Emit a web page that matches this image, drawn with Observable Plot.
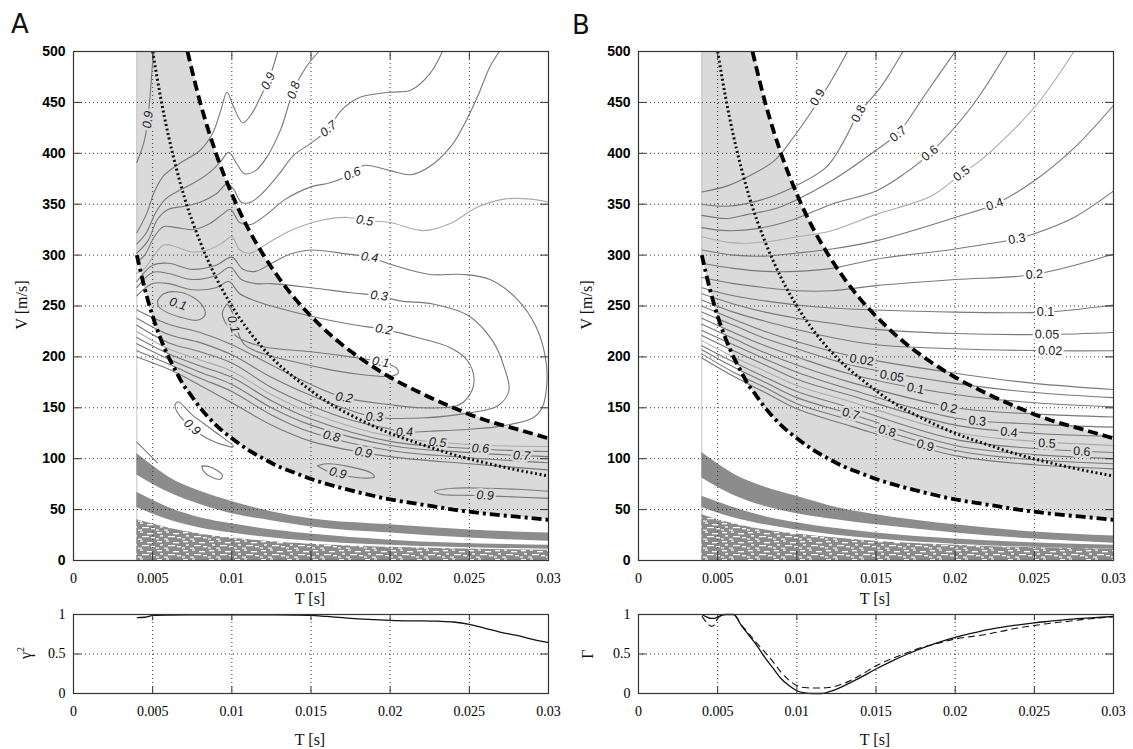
<!DOCTYPE html>
<html><head><meta charset="utf-8">
<script src="https://cdn.jsdelivr.net/npm/d3@7"></script>
<script src="https://cdn.jsdelivr.net/npm/@observablehq/plot@0.6"></script>
<style>
body{margin:0;background:#fff;}
#root{position:relative;width:1133px;height:749px;overflow:hidden;background:#fff;}
.t{position:absolute;white-space:nowrap;color:#111;}
.letter{font-family:"DejaVu Sans",sans-serif;font-size:26px;line-height:26px;}
.xl{font-family:"Liberation Serif",serif;font-size:16px;transform:translate(-50%,-50%);}
.yl{font-family:"Liberation Serif",serif;font-size:16px;transform:translate(-50%,-50%) rotate(-90deg);}
</style></head><body><div id="root"></div>
<script>
// ---------------- axes ----------------
const xTicks = [0, 0.005, 0.01, 0.015, 0.02, 0.025, 0.03];
const xTickLabels = ["0", "0.005", "0.01", "0.015", "0.02", "0.025", "0.03"];
const vTicks = [0, 50, 100, 150, 200, 250, 300, 350, 400, 450, 500];
const gTicks = [0, 0.5, 1];
const gTickLabels = ["0", "0.5", "1"];
const dataStartT = 0.004;

// ---------------- boundary curves (same in A and B) ----------------
const boundT   = [0.004,0.0045,0.005,0.0055,0.006,0.0065,0.007,0.0072,0.008,0.009,0.01,0.011,0.012,0.013,0.014,0.015,0.0165,0.018,0.02,0.022,0.024,0.026,0.028,0.03];
const dashDotV = [300,267,240,218,200,185,171,167,150,133,120,109,100,92,86,80,73,67,60,55,50,46,43,40];
const dashedV  = [null,null,null,null,null,null,null,500,450,400,360,327,300,277,257,240,218,200,180,164,150,138,129,120];
const dottedT  = [0.005,0.0055,0.006,0.0065,0.007,0.008,0.009,0.01,0.011,0.012,0.013,0.014,0.016,0.018,0.02,0.022,0.024,0.026,0.028,0.03];
const dottedV  = [500,455,417,385,357,313,278,250,227,208,192,179,156,139,125,114,104,96,89,83];

// ---------------- contours, panel A ----------------
const contoursA = [
 {v:"0.9", pts:[[0.004,391],[0.0045,414],[0.0048,450],[0.005,489],[0.0051,500]]},
 {v:"0.9", pts:[[0.004,322],[0.0046,340],[0.0051,362],[0.0057,378],[0.0067,390],[0.008,403],[0.0088,420],[0.0093,442],[0.0097,460],[0.0101,446],[0.0107,430],[0.0113,440],[0.0118,455],[0.0123,471],[0.0129,500]]},
 {v:"0.8", pts:[[0.004,311],[0.0046,322],[0.0052,342],[0.0058,355],[0.0065,362],[0.0075,370],[0.0085,380],[0.0093,392],[0.0098,401],[0.0103,390],[0.0108,380],[0.0115,383],[0.0122,396],[0.0131,424],[0.0139,462],[0.0147,485],[0.0155,500]]},
 {v:"0.7", pts:[[0.004,302],[0.0047,314],[0.0053,335],[0.006,345],[0.007,348],[0.008,352],[0.009,360],[0.0097,370],[0.0101,365],[0.0106,352],[0.0112,352],[0.012,362],[0.013,380],[0.0139,398],[0.015,410],[0.0161,424],[0.0169,442],[0.0181,455],[0.02,460],[0.0213,462],[0.0225,478],[0.0233,500]]},
 {v:"0.6", pts:[[0.004,293],[0.0045,300],[0.0051,318],[0.0057,328],[0.0065,327],[0.0075,325],[0.0085,330],[0.0094,340],[0.0099,345],[0.0105,332],[0.0112,330],[0.0122,340],[0.0133,354],[0.015,367],[0.0162,371],[0.0176,380],[0.0183,388],[0.02,383],[0.0213,379],[0.0225,387],[0.0238,406],[0.0246,426],[0.0255,455],[0.0263,485],[0.0269,500]]},
 {v:"0.5", pts:[[0.004,282],[0.0045,287],[0.0051,300],[0.0057,310],[0.0065,308],[0.0075,303],[0.0085,305],[0.0094,312],[0.01,318],[0.0105,305],[0.0112,302],[0.0122,311],[0.0137,324],[0.0156,334],[0.0173,337],[0.0184,334],[0.02,332],[0.0221,324],[0.0238,331],[0.0255,347],[0.0272,355],[0.0289,355],[0.03,352]]},
 {v:"0.4", pts:[[0.004,274],[0.005,290],[0.006,292],[0.0075,286],[0.009,290],[0.01,298],[0.0107,286],[0.0115,284],[0.0125,292],[0.0137,301],[0.015,305],[0.0173,301],[0.0187,298],[0.02,291],[0.0225,281],[0.0246,281],[0.0263,276],[0.028,257],[0.0292,230],[0.0298,200],[0.0299,175],[0.0296,150],[0.029,140],[0.027,132],[0.025,129],[0.0225,127],[0.0209,126],[0.02,129],[0.0175,138],[0.015,152],[0.0125,170],[0.01,194],[0.008,205],[0.006,214],[0.004,231]]},
 {v:"0.3", pts:[[0.004,268],[0.005,283],[0.006,282],[0.0075,276],[0.009,280],[0.0099,288],[0.0106,276],[0.0115,272],[0.0125,272],[0.015,268],[0.0175,263],[0.0193,260],[0.0206,255],[0.0227,252],[0.025,240],[0.0265,215],[0.0272,190],[0.0275,167],[0.0268,152],[0.025,145],[0.022,140],[0.019,141],[0.017,150],[0.015,162],[0.0125,180],[0.01,202],[0.008,214],[0.006,222],[0.004,238]]},
 {v:"0.2", pts:[[0.004,260],[0.005,272],[0.006,272],[0.0075,266],[0.009,268],[0.0098,274],[0.0105,262],[0.0115,255],[0.0125,250],[0.015,240],[0.0175,232],[0.0196,227],[0.0217,219],[0.0238,209],[0.0249,196],[0.0253,176],[0.0249,160],[0.0242,152],[0.022,150],[0.02,153],[0.0171,160],[0.015,173],[0.0125,192],[0.01,212],[0.008,224],[0.006,232],[0.004,246]]},
 {v:"0.1", pts:[[0.0053,255],[0.0057,262],[0.0065,264],[0.0075,259],[0.0082,249],[0.0083,241],[0.0078,236],[0.007,238],[0.006,243],[0.0054,249],[0.0053,255]]},
 {v:"0.1", pts:[[0.0097,252],[0.0094,243],[0.0097,231],[0.0104,219],[0.012,210],[0.015,205],[0.0175,200],[0.0194,195],[0.0204,189],[0.0205,184],[0.02,181],[0.018,183],[0.016,188],[0.014,195],[0.012,203],[0.0108,212],[0.0103,228],[0.01,245],[0.0097,252]]},
 {v:"0.5", pts:[[0.004,225],[0.006,208],[0.008,197],[0.01,186],[0.0125,163],[0.015,145],[0.02,122],[0.025,114],[0.03,112]]},
 {v:"0.6", pts:[[0.004,219],[0.006,203],[0.008,191],[0.01,180],[0.0125,157],[0.015,139],[0.02,117],[0.025,110],[0.03,107]]},
 {v:"0.7", pts:[[0.004,213],[0.006,198],[0.008,185],[0.01,173],[0.0125,150],[0.015,133],[0.02,113],[0.025,106],[0.03,102]]},
 {v:"0.8", pts:[[0.004,206],[0.006,193],[0.008,179],[0.01,166],[0.0125,143],[0.015,126],[0.02,108],[0.025,101],[0.03,96]]},
 {v:"0.9", pts:[[0.004,200],[0.006,188],[0.008,172],[0.01,155],[0.0125,133],[0.015,117],[0.02,102],[0.025,95],[0.03,89]]},
 {v:"0.9", pts:[[0.0064,153],[0.0066,156],[0.0075,143],[0.0088,128],[0.0101,112],[0.009,116],[0.008,124],[0.0075,131],[0.007,137],[0.0065,147],[0.0064,153]]},
 {v:"0.9", pts:[[0.0081,93],[0.0086,92],[0.0094,84],[0.0093,80],[0.0087,82],[0.0082,88],[0.0081,93]]},
 {v:"0.9", pts:[[0.0154,93],[0.016,95],[0.0175,92],[0.0188,86],[0.019,82],[0.0182,81],[0.017,84],[0.016,88],[0.0154,93]]},
 {v:"0.9", pts:[[0.03,68],[0.028,70],[0.026,71],[0.024,71],[0.0228,68],[0.0232,65],[0.025,64],[0.027,63],[0.03,61]]},
 {v:"", pts:[[0.004,116],[0.0046,107],[0.0053,96]]}
];
const labelsA = [
 ["0.9",0.0047,433],["0.9",0.0123,471],["0.8",0.0139,462],["0.7",0.0161,424],["0.6",0.0176,380],
 ["0.5",0.0184,334],["0.4",0.0187,298],["0.3",0.0193,260],["0.2",0.0196,227],["0.1",0.0194,195],
 ["0.1",0.0066,252],["0.1",0.0101,232],
 ["0.2",0.0171,160],["0.3",0.019,141],["0.4",0.0209,126],["0.5",0.023,116],["0.6",0.0257,110],["0.7",0.0283,103],
 ["0.8",0.0163,122],["0.9",0.0183,106],["0.9",0.0075,131],["0.9",0.0167,86],["0.9",0.026,64]
];
const bandsA = [
 {t:[0.004,0.005,0.006,0.008,0.01,0.0125,0.015,0.02,0.025,0.03], top:[105,93,82,68,58,48,41,35,30,27], bot:[84,75,67,55,46,39,33,27,22,19]},
 {t:[0.004,0.006,0.008,0.01,0.015,0.02,0.03], top:[67,52,42,36,26,20,15], bot:[52,40,32,27,19,15,11]}
];
const noiseA = {t:[0.004,0.006,0.008,0.01,0.015,0.02,0.03], top:[40,32,26,22,16,13,10]};

// ---------------- contours, panel B ----------------
const lowT = [0.004,0.006,0.008,0.01,0.0134,0.02,0.025,0.03];
const contoursB = [
 {v:"0.9", pts:[[0.004,362],[0.0056,368],[0.0069,377],[0.0086,393],[0.0098,416],[0.0111,445],[0.0122,472],[0.0132,500]]},
 {v:"0.8", pts:[[0.004,350],[0.0056,348],[0.0077,354],[0.0098,367],[0.0119,387],[0.0129,410],[0.0139,439],[0.0153,465],[0.0167,500]]},
 {v:"0.7", pts:[[0.004,339],[0.0056,336],[0.0069,340],[0.0085,345],[0.0098,353],[0.0122,373],[0.015,403],[0.0164,420],[0.0182,460],[0.02,500]]},
 {v:"0.6", pts:[[0.004,327],[0.0056,324],[0.0075,326],[0.0098,335],[0.0122,350],[0.015,363],[0.0168,380],[0.0184,400],[0.021,445],[0.0233,500]]},
 {v:"0.5", pts:[[0.004,318],[0.006,312],[0.008,313],[0.01,318],[0.0122,324],[0.015,340],[0.0185,358],[0.0204,380],[0.0216,393],[0.025,445],[0.0275,500]]},
 {v:"0.4", pts:[[0.004,305],[0.006,300],[0.008,299],[0.01,302],[0.0122,306],[0.015,314],[0.02,337],[0.0225,350],[0.025,373],[0.0275,405],[0.03,447]]},
 {v:"0.3", pts:[[0.004,292],[0.006,287],[0.008,284],[0.01,284],[0.0122,287],[0.015,296],[0.02,306],[0.0239,316],[0.025,321],[0.0275,337],[0.03,363]]},
 {v:"0.2", pts:[[0.004,278],[0.006,272],[0.008,268],[0.01,265],[0.0122,265],[0.015,270],[0.02,276],[0.025,281],[0.03,301]]},
 {v:"0.1", pts:[[0.004,268],[0.006,260],[0.008,255],[0.01,251],[0.0122,248],[0.015,246],[0.02,244],[0.0257,244],[0.03,251]]},
 {v:"0.05", pts:[[0.004,262],[0.006,252],[0.008,244],[0.01,238],[0.0122,233],[0.015,227],[0.02,223],[0.0258,222],[0.03,224]]},
 {v:"0.02", pts:[[0.004,256],[0.006,244],[0.008,235],[0.01,227],[0.0122,219],[0.015,212],[0.02,208],[0.026,206],[0.03,206]]},
 {v:"0.02", pts:lowT.map((t,i)=>[t,[250,237,225,215,201,184,174,168][i]])},
 {v:"0.05", pts:lowT.map((t,i)=>[t,[244,231,218,208,192,174,165,160][i]])},
 {v:"0.1",  pts:lowT.map((t,i)=>[t,[238,224,211,200,183,163,155,151][i]])},
 {v:"0.2",  pts:lowT.map((t,i)=>[t,[232,218,204,192,175,150,144,141][i]])},
 {v:"0.3",  pts:lowT.map((t,i)=>[t,[226,212,198,185,168,140,134,131][i]])},
 {v:"0.4",  pts:lowT.map((t,i)=>[t,[221,206,192,178,162,133,125,122][i]])},
 {v:"0.5",  pts:lowT.map((t,i)=>[t,[216,200,186,172,156,126,117,113][i]])},
 {v:"0.6",  pts:lowT.map((t,i)=>[t,[211,195,180,166,150,119,110,106][i]])},
 {v:"0.7",  pts:lowT.map((t,i)=>[t,[207,190,175,160,144,113,104,100][i]])},
 {v:"0.8",  pts:lowT.map((t,i)=>[t,[203,185,170,154,138,108,99,95][i]])},
 {v:"0.9",  pts:lowT.map((t,i)=>[t,[199,181,165,149,132,103,94,90][i]])}
];
const labelsB = [
 ["0.9",0.0113,455],["0.8",0.0139,439],["0.7",0.0164,419],["0.6",0.0184,400],["0.5",0.0204,380],
 ["0.4",0.0225,350],["0.3",0.0239,316],["0.2",0.025,281],["0.1",0.0257,244],["0.05",0.0258,222],["0.02",0.026,206],
 ["0.02",0.0141,197],["0.05",0.016,181],["0.1",0.0175,169],["0.2",0.0196,150],["0.3",0.0214,137],["0.4",0.0234,126],
 ["0.5",0.0258,115],["0.6",0.028,107],["0.7",0.0134,144],["0.8",0.0157,127],["0.9",0.0181,113]
];
const bandsB = [
 {t:[0.004,0.005,0.006,0.008,0.01,0.0125,0.015,0.02,0.025,0.03], top:[106,95,85,72,63,52,45,35,28,24], bot:[81,72,64,53,46,40,35,27,21,17]},
 {t:[0.004,0.006,0.008,0.01,0.015,0.02,0.03], top:[63,52,43,37,27,21,15], bot:[52,42,35,30,21,16,11]}
];
const noiseB = {t:[0.004,0.006,0.008,0.01,0.015,0.02,0.03], top:[45,36,30,26,19,15,11]};

// ---------------- lower panels ----------------
const gammaAT = [0.004,0.0045,0.0048,0.005,0.006,0.008,0.01,0.012,0.014,0.015,0.016,0.017,0.018,0.019,0.02,0.021,0.022,0.023,0.024,0.025,0.026,0.027,0.028,0.029,0.03];
const gammaAV = [0.96,0.965,0.98,0.99,0.993,0.995,0.995,0.995,0.993,0.99,0.975,0.96,0.945,0.935,0.925,0.92,0.92,0.915,0.905,0.875,0.825,0.775,0.735,0.685,0.645];
const gammaBT = [0.004,0.0043,0.0046,0.0048,0.005,0.0055,0.006,0.0065,0.007,0.0075,0.008,0.0085,0.009,0.0095,0.01,0.0105,0.011,0.0115,0.012,0.013,0.014,0.015,0.016,0.017,0.018,0.019,0.02,0.021,0.022,0.023,0.024,0.025,0.026,0.027,0.028,0.029,0.03];
const gammaBSolid  = [1.0,0.97,0.95,0.95,0.97,1.0,1.0,0.86,0.73,0.6,0.45,0.32,0.19,0.1,0.035,0.008,0.0,0.0,0.02,0.1,0.2,0.31,0.41,0.5,0.58,0.65,0.71,0.76,0.805,0.84,0.87,0.895,0.915,0.935,0.95,0.962,0.975];
const gammaBDashed = [0.98,0.9,0.85,0.87,0.95,1.0,1.0,0.87,0.75,0.63,0.52,0.4,0.27,0.17,0.1,0.075,0.07,0.07,0.075,0.13,0.23,0.35,0.44,0.52,0.59,0.64,0.69,0.72,0.75,0.79,0.83,0.86,0.89,0.91,0.935,0.955,0.97];

// ---------------- helpers ----------------
const root = document.getElementById("root");
const hiV = dashedV.map(v => v == null ? 500 : v);
function interp(ts, vs, t) {
  if (t <= ts[0]) return vs[0];
  for (let i = 1; i < ts.length; i++) if (t <= ts[i]) { const f = (t - ts[i-1]) / (ts[i] - ts[i-1]); return vs[i-1] + f * (vs[i] - vs[i-1]); }
  return vs[vs.length - 1];
}
function inShade(t, v) { return t >= dataStartT && v >= interp(boundT, dashDotV, t) && v <= interp(boundT, hiV, t); }
function place(el, left, top) { el.style.position = "absolute"; el.style.left = left + "px"; el.style.top = top + "px"; root.append(el); }
function addText(cls, txt, x, y) { const d = document.createElement("div"); d.className = "t " + cls; d.innerHTML = txt; d.style.left = x + "px"; d.style.top = y + "px"; root.append(d); }

// speckle texture for the noisy low-velocity region
function addSpeckle(svg, id) {
  const p = d3.select(svg).insert("defs", ":first-child").append("pattern")
    .attr("id", id).attr("patternUnits", "userSpaceOnUse").attr("width", 26).attr("height", 9);
  p.append("rect").attr("width", 26).attr("height", 9).attr("fill", "#8a8a8a");
  [[1,1,5,1.3],[10,0.5,3,1.2],[17,2,6,1.3],[4,4.2,3,1.4],[12,5,7,1.2],[21,6,4,1.3],[0,7.4,3,1.2],[8,7.6,4,1.1]]
    .forEach(([x,y,w,h]) => p.append("rect").attr("x", x).attr("y", y).attr("width", w).attr("height", h).attr("fill", "#fff"));
}

const tickFont = {fontFamily: "Liberation Serif, serif", fontSize: 14};
const gridStyle = {stroke: "#333", strokeWidth: 1, strokeDasharray: "1,3"};
const xFmt = d => xTickLabels[xTicks.indexOf(d)];

function mainPanel(contours, labels, bands, noise, italic, patId) {
  const W = 560, H = 606, mL = 73, mR = 12, mT = 51, mB = 46;
  const xs = t => mL + t / 0.03 * (W - mL - mR), ys = v => mT + (1 - v / 500) * (H - mT - mB);
  const rows = contours.flatMap((c, i) => c.pts.map(([t, v]) => ({t, v, id: i, level: c.v})));
  const labRows = labels.map(([level, t, v]) => {
    let best = Infinity, ang = 0;
    const px = xs(t), py = ys(v);
    contours.forEach(c => {
      if (c.v !== level) return;
      for (let k = 1; k < c.pts.length; k++) {
        const ax = xs(c.pts[k-1][0]), ay = ys(c.pts[k-1][1]), bx = xs(c.pts[k][0]), by = ys(c.pts[k][1]);
        const dx = bx - ax, dy = by - ay, L = dx*dx + dy*dy || 1;
        let u = ((px - ax) * dx + (py - ay) * dy) / L; u = Math.max(0, Math.min(1, u));
        const d = Math.hypot(ax + u*dx - px, ay + u*dy - py);
        if (d < best) { best = d; ang = Math.atan2(dy, dx) * 180 / Math.PI; }
      }
    });
    if (ang > 90) ang -= 180; if (ang < -90) ang += 180;
    return {t, v, level, rot: ang, inside: inShade(t, v)};
  });
  const shadeRows = boundT.map((t, i) => ({t, lo: dashDotV[i], hi: hiV[i]}));
  const dashedRows = boundT.map((t, i) => ({t, v: dashedV[i]})).filter(d => d.v != null);
  const dashDotRows = boundT.map((t, i) => ({t, v: dashDotV[i]}));
  const dottedRows = dottedT.map((t, i) => ({t, v: dottedV[i]}));
  const bandRows = bands.flatMap((b, i) => b.t.map((t, k) => ({t, top: b.top[k], bot: b.bot[k], id: i})));
  const noiseRows = noise.t.map((t, k) => ({t, top: noise.top[k]}));
  const labStyle = {x: "t", y: "v", text: "level", rotate: "rot", fill: "#1a1a1a", fontSize: 12.5,
    fontFamily: "Liberation Sans, sans-serif", fontStyle: italic ? "italic" : "normal", strokeWidth: 5};
  const bold = {strokeLinecap: "butt", strokeLinejoin: "miter", curve: "monotone-x"};
  const svg = Plot.plot({
    width: W, height: H, marginLeft: mL, marginRight: mR, marginTop: mT, marginBottom: mB,
    x: {domain: [0, 0.03], label: null}, y: {domain: [0, 500], label: null},
    style: {background: "transparent", overflow: "visible"},
    marks: [
      Plot.areaY(shadeRows, {x: "t", y1: "lo", y2: "hi", fill: "#dadada", curve: "monotone-x"}),
      Plot.ruleX([dataStartT], {y1: 0, y2: 500, stroke: "#c4c4c4", strokeWidth: 1}),
      Plot.areaY(noiseRows, {x: "t", y1: 0, y2: "top", fill: `url(#${patId})`, curve: "monotone-x"}),
      Plot.areaY(bandRows, {x: "t", y1: "bot", y2: "top", z: "id", fill: "#8c8c8c", curve: "monotone-x"}),
      Plot.ruleX(xTicks.slice(1, -1), {...gridStyle}),
      Plot.ruleY(vTicks.slice(1, -1), {...gridStyle}),
      Plot.line(rows.filter(d => d.level !== "0.5"), {x: "t", y: "v", z: "id", stroke: "#787878", strokeWidth: 1.1, curve: "catmull-rom", clip: true}),
      Plot.line(rows.filter(d => d.level === "0.5"), {x: "t", y: "v", z: "id", stroke: "#ababab", strokeWidth: 1.1, curve: "catmull-rom", clip: true}),
      Plot.text(labRows.filter(d => d.inside), {...labStyle, stroke: "#dadada"}),
      Plot.text(labRows.filter(d => !d.inside), {...labStyle, stroke: "#ffffff"}),
      Plot.line(dottedRows, {x: "t", y: "v", stroke: "#111", strokeWidth: 3, strokeDasharray: "2,2.6", ...bold}),
      Plot.line(dashedRows, {x: "t", y: "v", stroke: "#000", strokeWidth: 3.8, strokeDasharray: "10,5", ...bold}),
      Plot.line(dashDotRows, {x: "t", y: "v", stroke: "#000", strokeWidth: 3.8, strokeDasharray: "10,4,3,4", ...bold}),
      Plot.ruleX(xTicks, {y1: 0, y2: 8, stroke: "#333"}),
      Plot.ruleX(xTicks, {y1: 492, y2: 500, stroke: "#333"}),
      Plot.ruleY(vTicks, {x1: 0, x2: 0.0005, stroke: "#333"}),
      Plot.ruleY(vTicks, {x1: 0.0295, x2: 0.03, stroke: "#333"}),
      Plot.frame({stroke: "#333", strokeWidth: 1.2}),
      Plot.axisX(xTicks, {tickSize: 0, tickPadding: 13, tickFormat: xFmt, label: null, ...tickFont}),
      Plot.axisY(vTicks, {tickSize: 0, tickPadding: 8, label: null, fontFamily: "Liberation Sans, sans-serif", fontSize: 14, fontWeight: "bold"})
    ]
  });
  addSpeckle(svg, patId);
  return svg;
}

function lowerPanel(seriesList) {
  const W = 560, H = 150, mL = 73, mR = 12, mT = 14, mB = 57;
  const marks = [
    Plot.ruleX(xTicks.slice(1, -1), {...gridStyle}),
    Plot.ruleY([0.5], {...gridStyle})
  ];
  seriesList.forEach(s => {
    const rows = s.t.map((t, i) => ({t, g: s.v[i]}));
    marks.push(Plot.line(rows, {x: "t", y: "g", stroke: "#111", strokeWidth: s.dash ? 1.1 : 1.3, strokeDasharray: s.dash ? "7,4" : null, strokeLinecap: "butt", curve: "monotone-x"}));
  });
  marks.push(
    Plot.ruleX(xTicks, {y1: 0, y2: 0.08, stroke: "#333"}),
    Plot.ruleX(xTicks, {y1: 0.92, y2: 1, stroke: "#333"}),
    Plot.ruleY(gTicks, {x1: 0, x2: 0.0005, stroke: "#333"}),
    Plot.ruleY(gTicks, {x1: 0.0295, x2: 0.03, stroke: "#333"}),
    Plot.frame({stroke: "#333", strokeWidth: 1.2}),
    Plot.axisX(xTicks, {tickSize: 0, tickPadding: 13, tickFormat: xFmt, label: null, ...tickFont}),
    Plot.axisY(gTicks, {tickSize: 0, tickPadding: 8, tickFormat: d => gTickLabels[gTicks.indexOf(d)], label: null, ...tickFont})
  );
  return Plot.plot({
    width: W, height: H, marginLeft: mL, marginRight: mR, marginTop: mT, marginBottom: mB,
    x: {domain: [0, 0.03], label: null}, y: {domain: [0, 1], label: null},
    style: {background: "transparent", overflow: "visible"}, marks
  });
}

place(mainPanel(contoursA, labelsA, bandsA, noiseA, true, "speckleA"), 0, 0);
place(mainPanel(contoursB, labelsB, bandsB, noiseB, false, "speckleB"), 565, 0);
place(lowerPanel([{t: gammaAT, v: gammaAV}]), 0, 600);
place(lowerPanel([{t: gammaBT, v: gammaBSolid}, {t: gammaBT, v: gammaBDashed, dash: true}]), 565, 600);

addText("letter", "A", 11, 11);
addText("letter", "B", 572, 12);
addText("yl", "V [m/s]", 22, 305);
addText("yl", "V [m/s]", 587, 305);
addText("xl", "T [s]", 310, 599);
addText("xl", "T [s]", 875, 599);
addText("xl", "T [s]", 310, 740);
addText("xl", "T [s]", 875, 740);
addText("yl", "&gamma;<sup style='font-size:10px'>2</sup>", 25, 653);
addText("yl", "&Gamma;", 588, 654);
</script></body></html>
